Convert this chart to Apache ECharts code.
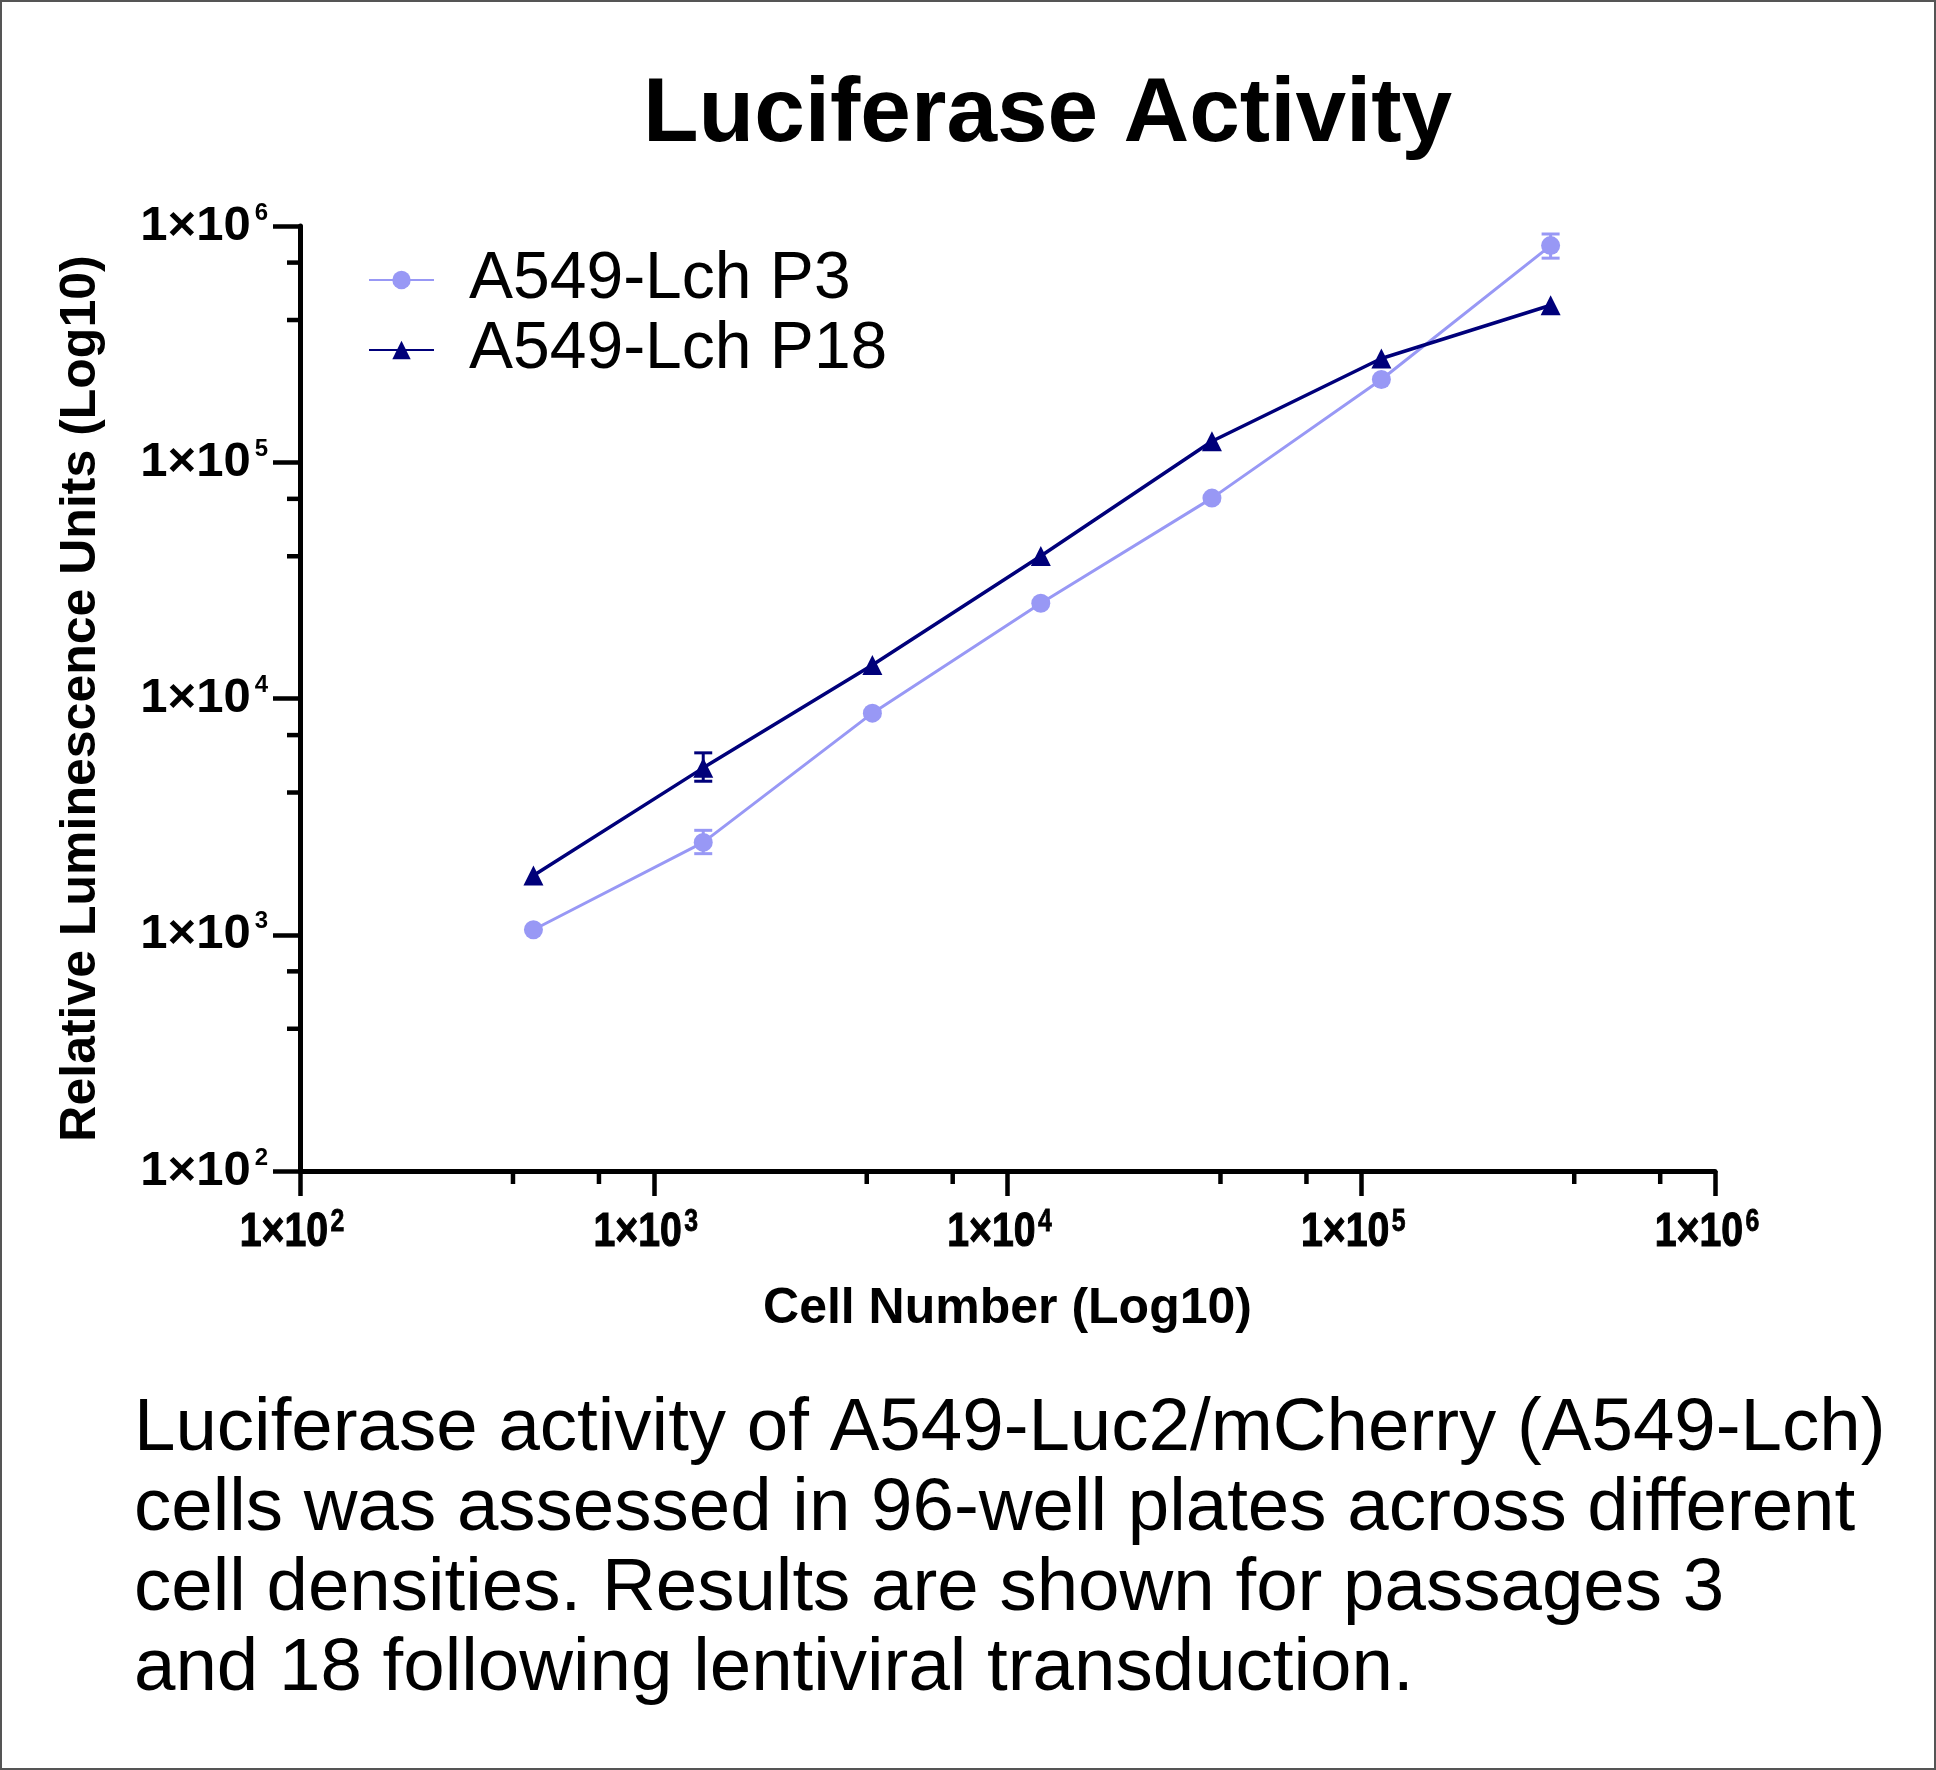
<!DOCTYPE html>
<html>
<head>
<meta charset="utf-8">
<script src="https://cdn.jsdelivr.net/npm/echarts@6/dist/echarts.min.js"></script>
<style>
html,body{margin:0;padding:0;background:#fff;}
#main{width:1936px;height:1770px;}
</style>
</head>
<body>
<div id="main"></div>
<script>
const FONT = "'Liberation Sans', Arial, Helvetica, sans-serif";

const titleText = 'Luciferase Activity';
const xAxisTitle = 'Cell Number (Log10)';
const yAxisTitle = 'Relative Luminescence Units (Log10)';
const seriesNames = ['A549-Lch P3', 'A549-Lch P18'];
const seriesColors = ['#9898f5', '#00007a'];

const cellNumbers = [457, 1380, 4150, 12420, 37840, 114000, 343000];
const p3Mean = [1050, 2460, 8670, 25300, 70500, 224000, 826000];
const p3ErrLow = [null, 2204, null, null, null, null, 731000];
const p3ErrHigh = [null, 2767, null, null, null, null, 925000];
const p18Mean = [1780, 5086, 13870, 40080, 122700, 275000, 462000];
const p18ErrLow = [null, 4465, null, null, null, null, null];
const p18ErrHigh = [null, 5888, null, null, null, null, null];

const axisMin = 100;
const axisMax = 1000000;
const xTickLabelValues = [100, 1000, 10000, 100000, 1000000];
const minorTickValues = [400, 700, 4000, 7000, 40000, 70000, 400000, 700000];

const captionLines = [
  'Luciferase activity of A549-Luc2/mCherry (A549-Lch)',
  'cells was assessed in 96-well plates across different',
  'cell densities. Results are shown for passages 3',
  'and 18 following lentiviral transduction.'
];

function sciLabel(v) {
  const e = Math.round(Math.log10(v));
  return '{b|1×10}{s|' + e + '}';
}

const xRich = {
  b: {font: "bold 49px " + FONT, fontFamily: FONT, fontSize: 49, fontWeight: 'bold',
      fill: '#000', stroke: '#000', lineWidth: 1.2, lineHeight: 50},
  s: {font: "bold 31px " + FONT, fontFamily: FONT, fontSize: 31, fontWeight: 'bold',
      fill: '#000', stroke: '#000', lineWidth: 0.8, lineHeight: 35, verticalAlign: 'top', padding: [0, 0, 0, 3]}
};
const yRich = {
  b: {fontFamily: FONT, fontSize: 49, fontWeight: 'bold', color: '#000', lineHeight: 50},
  s: {fontFamily: FONT, fontSize: 24, fontWeight: 'bold', color: '#000', lineHeight: 28,
      verticalAlign: 'top', padding: [0, 0, 0, 4]}
};

function errorRenderer(color) {
  return function (params, api) {
    const x = api.value(0);
    const lo = api.coord([x, api.value(1)]);
    const hi = api.coord([x, api.value(2)]);
    const w = 9;
    const st = {stroke: color, lineWidth: 3};
    return {
      type: 'group',
      children: [
        {type: 'line', shape: {x1: lo[0], y1: lo[1], x2: hi[0], y2: hi[1]}, style: st},
        {type: 'line', shape: {x1: hi[0] - w, y1: hi[1], x2: hi[0] + w, y2: hi[1]}, style: st},
        {type: 'line', shape: {x1: lo[0] - w, y1: lo[1], x2: lo[0] + w, y2: lo[1]}, style: st}
      ]
    };
  };
}

function errData(lows, highs) {
  const out = [];
  cellNumbers.forEach((x, i) => {
    if (lows[i] != null) out.push([x, lows[i], highs[i]]);
  });
  return out;
}

const option = {
  animation: false,
  backgroundColor: '#ffffff',
  title: {
    text: titleText,
    left: 643,
    top: 70,
    padding: 0,
    textStyle: {fontFamily: FONT, fontSize: 91, fontWeight: 'bold', color: '#000', lineHeight: 91}
  },
  legend: {
    orient: 'vertical',
    left: 368,
    top: 247,
    padding: 0,
    itemWidth: 65,
    itemHeight: 23,
    itemGap: 4,
    data: seriesNames,
    textStyle: {fontFamily: FONT, fontSize: 66, color: '#000', lineHeight: 66, padding: [0, 0, 0, 30]}
  },
  grid: {left: 300, right: 221, top: 226, bottom: 599, containLabel: false, outerBoundsMode: 'none'},
  xAxis: {
    type: 'log', logBase: 10, min: axisMin, max: axisMax, splitNumber: 4,
    axisLine: {show: true, lineStyle: {color: '#000', width: 5}},
    axisTick: {show: true, length: 25, lineStyle: {color: '#000', width: 4.5}},
    minorTick: {show: false},
    splitLine: {show: false},
    axisLabel: {show: false},
    name: xAxisTitle, nameLocation: 'middle', nameGap: 113,
    nameTextStyle: {fontFamily: FONT, fontSize: 50, fontWeight: 'bold', color: '#000', lineHeight: 50}
  },
  yAxis: {
    type: 'log', logBase: 10, min: axisMin, max: axisMax, splitNumber: 4,
    axisLine: {show: true, lineStyle: {color: '#000', width: 5}},
    axisTick: {show: true, length: 27, lineStyle: {color: '#000', width: 4.5}},
    minorTick: {show: false},
    splitLine: {show: false},
    axisLabel: {margin: 32, formatter: sciLabel, rich: yRich},
    name: yAxisTitle, nameLocation: 'middle', nameGap: 194,
    nameTextStyle: {fontFamily: FONT, fontSize: 50, fontWeight: 'bold', color: '#000', lineHeight: 50}
  },
  graphic: [
    {
      type: 'text', left: 134, top: 1389, silent: true,
      style: {text: captionLines.join('\n'), fontFamily: FONT, fontSize: 74.5, lineHeight: 80, fill: '#000'}
    },
    {
      type: 'rect', silent: true,
      shape: {x: 1, y: 1, width: 1934, height: 1768},
      style: {fill: 'none', stroke: '#555', lineWidth: 2}
    }
  ],
  series: [
    {
      type: 'custom', name: 'xLabels', clip: false, silent: true,
      data: xTickLabelValues.map(v => [v, axisMin]), encode: {x: 0, y: 1},
      renderItem: function (params, api) {
        const v = api.value(0);
        const p = api.coord([v, api.value(1)]);
        return {
          type: 'text',
          x: p[0] - 8,
          y: p[1] + 36,
          scaleX: 0.8,
          style: {
            text: sciLabel(v),
            rich: xRich,
            font: "bold 49px " + FONT,
            fill: '#000',
            align: 'center',
            verticalAlign: 'top'
          }
        };
      }
    },
    {
      type: 'custom', name: 'xMinor', clip: false, silent: true,
      data: minorTickValues.map(v => [v, axisMin]), encode: {x: 0, y: 1},
      renderItem: function (params, api) {
        const p = api.coord([api.value(0), api.value(1)]);
        return {type: 'line', shape: {x1: p[0], y1: p[1], x2: p[0], y2: p[1] + 13},
                style: {stroke: '#000', lineWidth: 4.5}};
      }
    },
    {
      type: 'custom', name: 'yMinor', clip: false, silent: true,
      data: minorTickValues.map(v => [axisMin, v]), encode: {x: 0, y: 1},
      renderItem: function (params, api) {
        const p = api.coord([api.value(0), api.value(1)]);
        return {type: 'line', shape: {x1: p[0] - 13, y1: p[1], x2: p[0], y2: p[1]},
                style: {stroke: '#000', lineWidth: 4.5}};
      }
    },
    {
      type: 'custom', name: 'p3err', clip: false, silent: true, z: 1,
      data: errData(p3ErrLow, p3ErrHigh), encode: {x: 0, y: [1, 2]},
      renderItem: errorRenderer(seriesColors[0])
    },
    {
      type: 'custom', name: 'p18err', clip: false, silent: true, z: 1,
      data: errData(p18ErrLow, p18ErrHigh), encode: {x: 0, y: [1, 2]},
      renderItem: errorRenderer(seriesColors[1])
    },
    {
      type: 'line', name: seriesNames[0], z: 3,
      data: cellNumbers.map((x, i) => [x, p3Mean[i]]),
      symbol: 'circle', symbolSize: 19, showAllSymbol: true,
      lineStyle: {color: seriesColors[0], width: 3},
      itemStyle: {color: seriesColors[0]}
    },
    {
      type: 'line', name: seriesNames[1], z: 3,
      data: cellNumbers.map((x, i) => [x, p18Mean[i]]),
      symbol: 'triangle', symbolSize: 20, showAllSymbol: true,
      lineStyle: {color: seriesColors[1], width: 3.5},
      itemStyle: {color: seriesColors[1]}
    }
  ]
};

const chart = echarts.init(document.getElementById('main'), null, {renderer: 'canvas'});
chart.setOption(option);
</script>
</body>
</html>
